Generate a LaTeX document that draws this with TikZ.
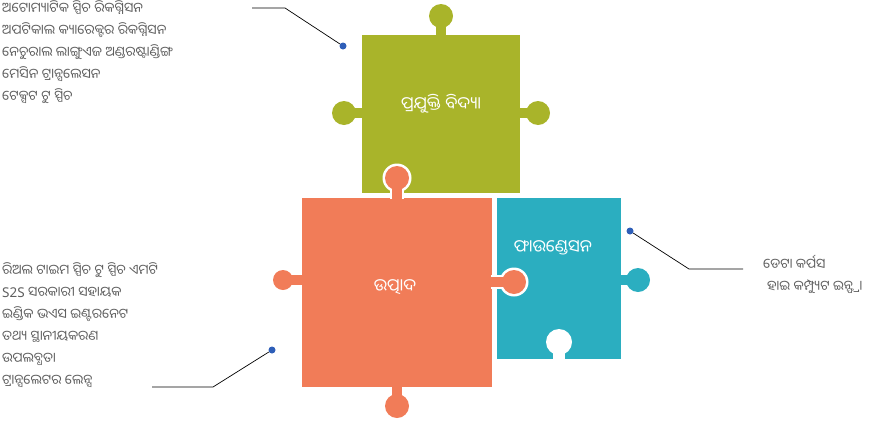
\documentclass[tikz,border=0pt]{standalone}
\usepackage{fontspec}
\newfontfamily\oriya[Script=Oriya]{Noto Sans Oriya UI}
\newfontfamily\latinsans{Noto Sans}
\definecolor{techgreen}{HTML}{A9B42A}
\definecolor{prodorange}{HTML}{F17C58}
\definecolor{foundteal}{HTML}{2BAEC0}
\definecolor{dotblue}{HTML}{2E5EB8}
\definecolor{textgray}{HTML}{5F5F5F}
\tikzset{
  piecelabel/.style={text=white, inner sep=0pt, font=\oriya\fontsize{17}{20}\selectfont},
  itemlist/.style={text=textgray, align=left, anchor=north west, inner sep=0pt,
    font=\oriya\fontsize{13.5}{22}\selectfont},
  bluedot/.style={circle, fill=dotblue, inner sep=0pt, minimum size=7pt},
  callout/.style={draw=black, line width=0.7pt}
}
\begin{document}
\begin{tikzpicture}[x=1pt, y=-1pt]
\useasboundingbox (0,0) rectangle (870,426);

% green piece
\fill[techgreen] (362,35) rectangle (520,193);
\fill[techgreen] (436,26) rectangle (446,36);
\fill[techgreen] (441,16) circle (12);
\fill[techgreen] (350,108) rectangle (363,118);
\fill[techgreen] (344,113) circle (12);
\fill[techgreen] (519,108) rectangle (530,118);
\fill[techgreen] (538,113) circle (12);

% teal piece
\fill[foundteal] (497,198) rectangle (621,359);
\fill[foundteal] (620,275) rectangle (630,285);
\fill[foundteal] (638,280) circle (12);
\fill[white] (553,345) rectangle (565,360);
\fill[white] (559,342) circle (13);

% orange piece
\fill[prodorange] (302,198) rectangle (492,387);
\fill[prodorange] (278,275) rectangle (303,285);
\fill[prodorange] (283,280) circle (10);
\fill[prodorange] (392,386) rectangle (402,396);
\fill[prodorange] (397,406) circle (12);
\fill[white] (390,186) rectangle (404,199);
\fill[white] (397,178) circle (14.5);
\fill[prodorange] (392,186) rectangle (402,199);
\fill[prodorange] (397,178) circle (12);
\fill[white] (491,275) rectangle (505,289);
\fill[white] (514,282) circle (14.5);
\fill[prodorange] (491,277) rectangle (505,287);
\fill[prodorange] (514,282) circle (12);

% labels
\node[piecelabel] (tech) at (441,104) {ପ୍ରଯୁକ୍ତି ବିଦ୍ୟା};
\node[piecelabel] (prod) at (395,287) {ଉତ୍ପାଦ};
\node[piecelabel] (found) at (553,248) {ଫାଉଣ୍ଡେସନ};

% lists
\node[itemlist] (techlist) at (2,0) {ଅଟୋମ୍ୟାଟିକ ସ୍ପିଚ ରିକଗ୍ନିସନ\\
 ଅପଟିକାଲ କ୍ୟାରେକ୍ଟର ରିକଗ୍ନିସନ\\
 ନେଚୁରାଲ ଲାଙ୍ଗୁଏଜ ଅଣ୍ଡରଷ୍ଟାଣ୍ଡିଙ୍ଗ\\
 ମେସିନ ଟ୍ରାନ୍ସଲେସନ\\
 ଟେକ୍ସଟ ଟୁ ସ୍ପିଚ};
\node[itemlist] (prodlist) at (2,262) {ରିଅଲ ଟାଇମ ସ୍ପିଚ ଟୁ ସ୍ପିଚ ଏମଟି\\
 {\latinsans S2S} ସରକାରୀ ସହାୟକ\\
 ଇଣ୍ଡିକ ଭଏସ ଇଣ୍ଟରନେଟ\\
 ତଥ୍ୟ ସ୍ଥାନୀୟକରଣ\\
 ଉପଲବ୍ଧତା\\
 ଟ୍ରାନ୍ସଲେଟର ଲେନ୍ସ};
\node[itemlist] (foundlist) at (763,255) {ଡେଟା କର୍ପସ\\
 \hspace{4pt}ହାଇ କମ୍ପ୍ୟୁଟ ଇନ୍ଫ୍ରା};

% callouts
\node[bluedot] (techdot) at (343,46) {};
\node[bluedot] (proddot) at (272,350) {};
\node[bluedot] (founddot) at (630,231) {};
\coordinate (techbend) at (285,8);
\coordinate (techend) at (252,8);
\coordinate (prodbend) at (213,387);
\coordinate (prodend) at (152,387);
\coordinate (foundbend) at (689,269);
\coordinate (foundend) at (743,269);
\draw[callout] (techdot) -- (techbend) -- (techend);
\draw[callout] (proddot) -- (prodbend) -- (prodend);
\draw[callout] (founddot) -- (foundbend) -- (foundend);

\end{tikzpicture}
\end{document}
